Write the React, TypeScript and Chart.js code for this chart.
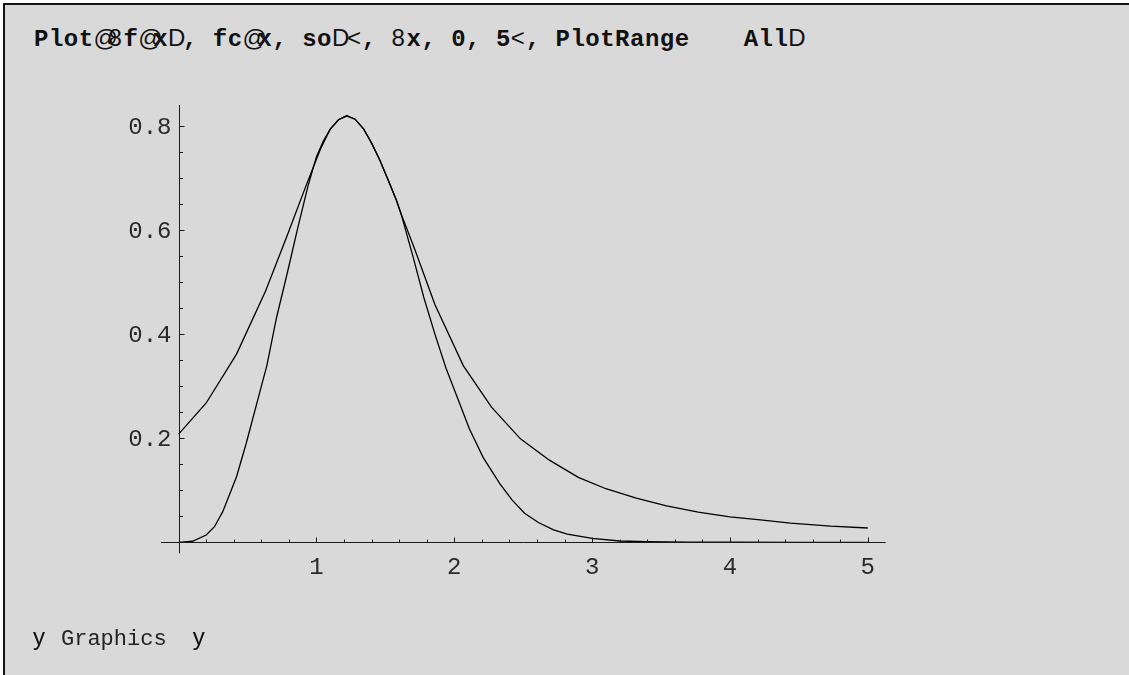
import React, { useEffect, useRef } from "react";
import { Chart, registerables } from "chart.js";

Chart.register(...registerables);

// f[x] — the narrower curve
const fX = [0, 0.1, 0.2, 0.26, 0.32, 0.42, 0.49, 0.57, 0.64, 0.71, 0.79, 0.86, 0.94, 1.0, 1.05, 1.1, 1.16, 1.22, 1.28, 1.34, 1.4, 1.46, 1.52, 1.58, 1.62, 1.7, 1.78, 1.86, 1.94, 2.02, 2.11, 2.21, 2.33, 2.42, 2.51, 2.61, 2.72, 2.82, 3.0, 3.2, 3.4, 3.7, 4.0, 4.5, 5.0];
const fY = [0, 0.002, 0.014, 0.03, 0.059, 0.126, 0.19, 0.27, 0.34, 0.432, 0.52, 0.6, 0.687, 0.742, 0.772, 0.795, 0.813, 0.8205, 0.814, 0.796, 0.768, 0.735, 0.697, 0.658, 0.626, 0.55, 0.47, 0.4, 0.335, 0.28, 0.218, 0.163, 0.113, 0.081, 0.056, 0.038, 0.024, 0.0155, 0.0075, 0.0025, 0.001, 0.0003, 0.0001, 0, 0];

// fc[x, s] — the wider curve
const fcX = [0, 0.2, 0.42, 0.63, 0.78, 0.93, 1.03, 1.1, 1.16, 1.22, 1.28, 1.34, 1.4, 1.46, 1.52, 1.58, 1.62, 1.715, 1.86, 2.065, 2.27, 2.48, 2.69, 2.9, 3.1, 3.32, 3.54, 3.77, 4.0, 4.22, 4.44, 4.73, 5.0];
const fcY = [0.208, 0.268, 0.362, 0.483, 0.585, 0.69, 0.757, 0.795, 0.813, 0.8205, 0.814, 0.796, 0.768, 0.735, 0.697, 0.658, 0.628, 0.5625, 0.457, 0.34, 0.26, 0.199, 0.158, 0.125, 0.103, 0.085, 0.07, 0.058, 0.049, 0.043, 0.037, 0.031, 0.0275];

const xTickValues = [1, 2, 3, 4, 5];
const xTickLabels = ["1", "2", "3", "4", "5"];
const yTickValues = [0.2, 0.4, 0.6, 0.8];
const yTickLabels = ["0.2", "0.4", "0.6", "0.8"];
const xMinorStep = 0.2;
const yMinorStep = 0.05;

const MONO = '"Liberation Mono", "Courier New", monospace';
const SANS = '"Liberation Sans", Arial, sans-serif';

const axesPlugin = {
  id: "mmaAxes",
  afterDatasetsDraw(chart: any) {
    const { ctx, chartArea, scales } = chart;
    const xs = scales.x;
    const ys = scales.y;
    const x0 = Math.round(xs.getPixelForValue(0)) + 0.5;
    const y0 = Math.round(ys.getPixelForValue(0)) + 0.5;
    ctx.save();
    ctx.strokeStyle = "#1a1a1a";
    ctx.lineWidth = 1;
    ctx.beginPath();
    ctx.moveTo(chartArea.left, y0);
    ctx.lineTo(chartArea.right, y0);
    ctx.moveTo(x0, chartArea.top);
    ctx.lineTo(x0, chartArea.bottom);
    const xMax = xs.max;
    for (let i = 1; i * xMinorStep <= xMax + 1e-9; i++) {
      const v = i * xMinorStep;
      const major = Math.abs(v - Math.round(v)) < 1e-6;
      const px = Math.round(xs.getPixelForValue(v)) + 0.5;
      ctx.moveTo(px, y0);
      ctx.lineTo(px, y0 - (major ? 5 : 3));
    }
    const yMax = ys.max;
    for (let i = 1; i * yMinorStep <= yMax + 1e-9; i++) {
      const v = i * yMinorStep;
      const major = Math.abs(v * 5 - Math.round(v * 5)) < 1e-6;
      const py = Math.round(ys.getPixelForValue(v)) + 0.5;
      ctx.moveTo(x0, py);
      ctx.lineTo(x0 + (major ? 5 : 3.5), py);
    }
    ctx.stroke();

    ctx.fillStyle = "#2a2a2a";
    ctx.font = `24px ${MONO}`;
    ctx.textBaseline = "alphabetic";
    ctx.textAlign = "center";
    xTickValues.forEach((v, i) => {
      ctx.fillText(xTickLabels[i], xs.getPixelForValue(v), y0 + 31);
    });
    ctx.textAlign = "right";
    yTickValues.forEach((v, i) => {
      ctx.fillText(yTickLabels[i], x0 - 8, ys.getPixelForValue(v) + 7.5);
    });
    ctx.restore();
  },
};

function ChartCanvas() {
  const ref = useRef<HTMLCanvasElement | null>(null);
  useEffect(() => {
    if (!ref.current) return;
    const chart = new Chart(ref.current, {
      type: "line",
      data: {
        datasets: [
          {
            label: "f",
            data: fX.map((x, i) => ({ x, y: fY[i] })),
            borderColor: "#000",
            borderWidth: 1.3,
            pointRadius: 0,
            tension: 0,
            fill: false,
          },
          {
            label: "fc",
            data: fcX.map((x, i) => ({ x, y: fcY[i] })),
            borderColor: "#000",
            borderWidth: 1.3,
            pointRadius: 0,
            tension: 0,
            fill: false,
          },
        ],
      },
      options: {
        animation: false,
        responsive: false,
        maintainAspectRatio: false,
        devicePixelRatio: 1,
        layout: { padding: { left: 161, right: 1129 - 885.7, top: 105, bottom: 675 - 553.3 } },
        plugins: { legend: { display: false }, tooltip: { enabled: false } },
        events: [],
        scales: {
          x: { type: "linear", min: -0.128, max: 5.13, display: false },
          y: { type: "linear", min: -0.0212, max: 0.8413, display: false },
        },
      },
      plugins: [axesPlugin],
    });
    return () => chart.destroy();
  }, []);
  return (
    <canvas
      ref={ref}
      width={1129}
      height={675}
      style={{ position: "absolute", left: 0, top: 0, width: 1129, height: 675 }}
    />
  );
}

const S = (t: string) => (
  <span
    style={{
      fontFamily: SANS,
      fontWeight: 400,
      display: "inline-block",
      width: "calc(0.6em + 0.5px)",
      letterSpacing: 0,
    }}
  >
    {t}
  </span>
);

export default function App() {
  return (
    <div style={{ position: "fixed", left: 0, top: 0, width: 1129, height: 675, background: "#fff", overflow: "hidden" }}>
      <div
        style={{
          position: "absolute",
          left: 3,
          top: 3,
          right: 0,
          bottom: 0,
          background: "#d9d9d9",
          borderLeft: "2px solid #141414",
          borderTop: "2px solid #141414",
        }}
      />
      <div
        style={{
          position: "absolute",
          left: 34,
          top: 26,
          fontFamily: MONO,
          fontWeight: 700,
          fontSize: 24,
          lineHeight: "24px",
          letterSpacing: "0.5px",
          whiteSpace: "pre",
          color: "#111",
        }}
      >
        Plot{S("@")}{S("8")}f{S("@")}x{S("D")}, fc{S("@")}x, so{S("D")}{S("<")}, {S("8")}x, 0, 5{S("<")}, PlotRange
        <span style={{ display: "inline-block", width: 54 }} />
        All{S("D")}
      </div>
      <ChartCanvas />
      <div
        style={{
          position: "absolute",
          left: 33,
          top: 626,
          fontFamily: MONO,
          fontSize: 22,
          lineHeight: "22px",
          whiteSpace: "pre",
          color: "#222",
        }}
      >
        <span style={{ fontFamily: SANS, fontSize: 24, color: "#111" }}>y</span>
        <span style={{ marginLeft: 16 }}>Graphics</span>
        <span style={{ fontFamily: SANS, fontSize: 24, color: "#111", marginLeft: 26 }}>y</span>
      </div>
    </div>
  );
}
